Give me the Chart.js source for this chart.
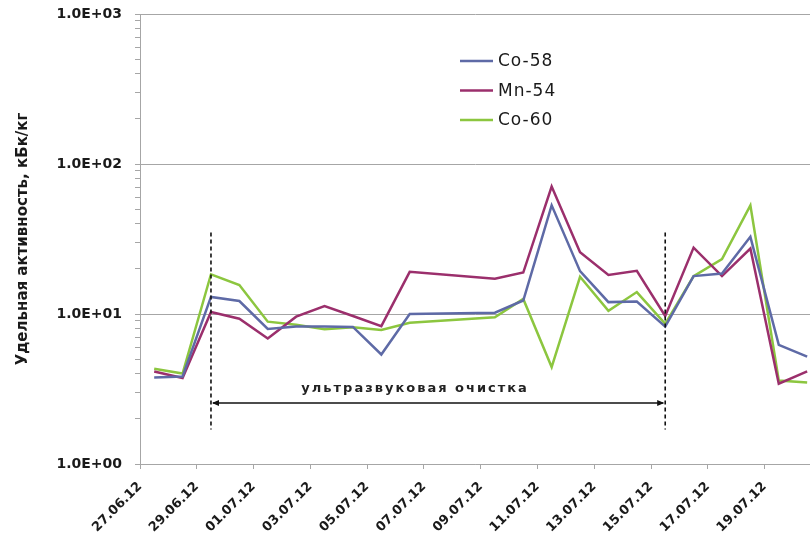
<!DOCTYPE html>
<html>
<head>
<meta charset="utf-8">
<script src="https://cdn.jsdelivr.net/npm/chart.js@4/dist/chart.umd.min.js"></script>
<style>
  html, body { margin: 0; padding: 0; background: #fff; overflow: hidden; }
  #wrap { width: 810px; height: 536px; position: relative; }
</style>
</head>
<body>
<div id="wrap"><canvas id="chart"></canvas></div>
<script>
// Sampling dates and measured specific activity, kBq/kg
const sampleDates = ['27.06.12','28.06.12','29.06.12','30.06.12','01.07.12','02.07.12','03.07.12','04.07.12','05.07.12','06.07.12',
                     '09.07.12','10.07.12','11.07.12','12.07.12','13.07.12','14.07.12','15.07.12','16.07.12','17.07.12','18.07.12',
                     '19.07.12','20.07.12'];
const co58 = [3.78, 3.83, 13.0, 12.2, 7.95, 8.24, 8.24, 8.2, 5.37, 10.0, 10.2, 12.3, 53, 19.3, 12.0, 12.1, 8.24, 17.9, 18.6, 32.7, 6.23, 5.2];
const mn54 = [4.14, 3.74, 10.3, 9.3, 6.86, 9.6, 11.3, 9.7, 8.3, 19.1, 17.2, 18.9, 70.8, 25.8, 18.2, 19.4, 9.7, 27.7, 17.9, 27.3, 3.43, 4.14];
const co60 = [4.32, 4.01, 18.4, 15.6, 8.89, 8.49, 7.91, 8.17, 7.83, 8.75, 9.5, 12.6, 4.43, 17.7, 10.5, 14.0, 8.59, 17.9, 23.2, 53, 3.6, 3.5];
const seriesNames = ['Co-58', 'Mn-54', 'Co-60'];

// Axis labelling
const axisDates = ['27.06.12','29.06.12','01.07.12','03.07.12','05.07.12','07.07.12','09.07.12','11.07.12','13.07.12','15.07.12','17.07.12','19.07.12'];
const yDecades = [1, 10, 100, 1000];
const yTitle = 'Удельная активность, кБк/кг';

// Ultrasonic cleaning period
const cleaningStart = '29.06.12';
const cleaningEnd = '15.07.12';
const cleaningLabel = 'ультразвуковая очистка';

const FONT = '"DejaVu Sans", Verdana, sans-serif';
const colors = ['#5E6AA6', '#9B2F6C', '#8CC63F'];

// days since the first date on the axis
function dayOffset(s) {
  const [d, m, y] = s.split('.').map(Number);
  return (Date.UTC(2000 + y, m - 1, d) - Date.UTC(2012, 5, 27)) / 86400000;
}
// a sample is plotted in the middle of its day
const sampleX = s => dayOffset(s) + 0.5;

const seriesValues = [co58, mn54, co60];
const datasets = seriesNames.map((name, i) => ({
  label: name,
  data: sampleDates.map((s, j) => ({ x: sampleX(s), y: seriesValues[i][j] })),
  borderColor: colors[i],
  backgroundColor: colors[i],
  borderWidth: 2.5,
  pointRadius: 0,
  tension: 0,
  fill: false
}));

const isDecade = v => yDecades.includes(v);

// legend drawn inside the plot, upper middle
const legendPlugin = {
  id: 'innerLegend',
  afterDraw(chart) {
    const ctx = chart.ctx;
    ctx.save();
    chart.data.datasets.forEach((ds, i) => {
      const y = 61 + 29.5 * i;
      ctx.strokeStyle = ds.borderColor;
      ctx.lineWidth = 2.5;
      ctx.beginPath();
      ctx.moveTo(460, y);
      ctx.lineTo(493, y);
      ctx.stroke();
      ctx.fillStyle = '#1a1a1a';
      ctx.font = '17px ' + FONT;
      ctx.letterSpacing = '1px';
      ctx.textBaseline = 'middle';
      ctx.textAlign = 'left';
      ctx.fillText(ds.label, 498, y + 1);
    });
    ctx.restore();
  }
};

// dashed markers and double arrow for the cleaning period
const cleaningPlugin = {
  id: 'cleaning',
  afterDatasetsDraw(chart) {
    const { ctx, scales: { x, y } } = chart;
    const x1 = x.getPixelForValue(sampleX(cleaningStart));
    const x2 = x.getPixelForValue(sampleX(cleaningEnd));
    const yTop = y.getPixelForValue(35);
    const yBot = y.getPixelForValue(1.7);
    const yArrow = y.getPixelForValue(2.55);
    const yText = y.getPixelForValue(3.2);
    ctx.save();
    ctx.strokeStyle = '#111';
    ctx.lineWidth = 1.6;
    ctx.setLineDash([4, 3]);
    [x1, x2].forEach(px => {
      ctx.beginPath();
      ctx.moveTo(px, yTop);
      ctx.lineTo(px, yBot);
      ctx.stroke();
    });
    ctx.setLineDash([]);
    ctx.lineWidth = 1.3;
    ctx.beginPath();
    ctx.moveTo(x1 + 2, yArrow);
    ctx.lineTo(x2 - 2, yArrow);
    ctx.stroke();
    ctx.fillStyle = '#111';
    const head = (tip, dir) => {
      ctx.beginPath();
      ctx.moveTo(tip, yArrow);
      ctx.lineTo(tip + dir * 7, yArrow - 3);
      ctx.lineTo(tip + dir * 7, yArrow + 3);
      ctx.closePath();
      ctx.fill();
    };
    head(x1 + 1, 1);
    head(x2 - 1, -1);
    // caption sits a little left of the arrow's midpoint
    ctx.font = 'bold 13px ' + FONT;
    ctx.letterSpacing = '2px';
    ctx.textAlign = 'center';
    ctx.textBaseline = 'middle';
    ctx.fillStyle = '#222';
    ctx.fillText(cleaningLabel, (x1 + x2) / 2 - 23, yText);
    ctx.restore();
  }
};

new Chart(document.getElementById('chart'), {
  type: 'line',
  data: { datasets },
  plugins: [legendPlugin, cleaningPlugin],
  options: {
    responsive: true,
    maintainAspectRatio: false,
    animation: false,
    layout: { padding: { top: 14, right: 0, left: 0, bottom: 0 } },
    plugins: { legend: { display: false }, tooltip: { enabled: false } },
    scales: {
      x: {
        type: 'linear',
        min: 0,
        max: 23.6,
        afterBuildTicks(scale) {
          scale.ticks = axisDates.map(s => ({ value: dayOffset(s) }));
        },
        afterFit(scale) {
          scale.height = 72;
          scale.paddingLeft = 0;
          scale.paddingRight = 0;
        },
        grid: { drawOnChartArea: false, drawTicks: true, tickLength: 5, color: '#A6A6A6', tickColor: '#A6A6A6' },
        border: { color: '#A6A6A6', width: 1 },
        ticks: {
          autoSkip: false,
          maxRotation: 45,
          minRotation: 45,
          padding: 10,
          color: '#1a1a1a',
          font: { family: FONT, size: 13, weight: 'bold' },
          callback: v => axisDates.find(s => dayOffset(s) === v) || ''
        }
      },
      y: {
        type: 'logarithmic',
        min: 1,
        max: 1000,
        afterBuildTicks(scale) {
          const t = [];
          yDecades.slice(0, -1).forEach(d => { for (let k = 1; k < 10; k++) t.push({ value: d * k, major: k === 1 }); });
          t.push({ value: yDecades[yDecades.length - 1], major: true });
          scale.ticks = t;
        },
        afterFit(scale) {
          scale.width = 140;
          scale.paddingTop = 0;
          scale.paddingBottom = 0;
        },
        grid: {
          drawTicks: true,
          tickLength: 5,
          color: ctx => (ctx.tick && isDecade(ctx.tick.value)) ? '#A6A6A6' : 'rgba(0,0,0,0)',
          tickColor: '#A6A6A6'
        },
        border: { color: '#A6A6A6', width: 1 },
        ticks: {
          autoSkip: false,
          padding: 13,
          color: '#1a1a1a',
          font: { family: FONT, size: 14, weight: 'bold' },
          callback: v => isDecade(v) ? '1.0E+' + String(Math.round(Math.log10(v))).padStart(2, '0') : ''
        },
        title: {
          display: true,
          text: yTitle,
          color: '#1a1a1a',
          font: { family: FONT, size: 15, weight: 'bold' },
          padding: { top: 14, bottom: 0 }
        }
      }
    }
  }
});
</script>
</body>
</html>
